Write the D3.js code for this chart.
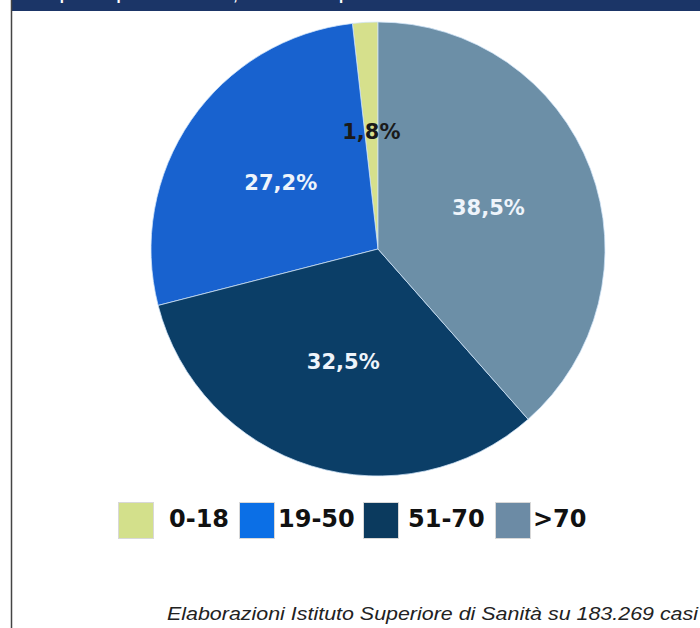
<!DOCTYPE html>
<html>
<head>
<meta charset="utf-8">
<script src="https://cdn.jsdelivr.net/npm/d3@7"></script>
<style>
  body { margin: 0; background: #fff; }
  svg { display: block; }
</style>
</head>
<body>
<script>
// data
const classi = ['0-18', '19-50', '51-70', '>70']
const valori = [1.8, 27.2, 32.5, 38.5]
const etichette = ['1,8%', '27,2%', '32,5%', '38,5%']
const colori = ['#d6e08c', '#1862cf', '#0b3e67', '#6c8fa7']
const coloriLegenda = ['#d3e08b', '#0b6fe6', '#0b3a5e', '#6c8ba5']
const titolo = 'Casi positivi per classe di età, distribuzione percentuale'
const nota = 'Elaborazioni Istituto Superiore di Sanità su 183.269 casi'

const W = 700, H = 628
const cx = 378, cy = 249, r = 227

let svg = d3.select('body')
  .append('svg')
  .attr('width', W)
  .attr('height', H)

// header bar (title is clipped at the top in the original)
svg.append('rect')
  .attr('x', 11).attr('y', 0)
  .attr('width', W - 11).attr('height', 11)
  .attr('fill', '#1b3567')

svg.append('text')
  .attr('x', 24).attr('y', 0)
  .attr('fill', '#fff')
  .style('font', 'bold 15px "Liberation Sans", Arial, sans-serif')
  .text(titolo)

// left border
svg.append('line')
  .attr('x1', 11.5).attr('x2', 11.5)
  .attr('y1', 0).attr('y2', H)
  .attr('stroke', '#444')
  .attr('stroke-width', 1.5)

// pie, clockwise from top, largest class first
let dati = classi.map((c, i) => ({ classe: c, valore: valori[i], etichetta: etichette[i], colore: colori[i] }))
let ordine = [3, 2, 1, 0]

let pie = d3.pie()
  .value(d => d.valore)
  .sort((a, b) => ordine.indexOf(classi.indexOf(a.classe)) - ordine.indexOf(classi.indexOf(b.classe)))

let arc = d3.arc().innerRadius(0).outerRadius(r)
let arcLabel = d3.arc().innerRadius(r * 0.52).outerRadius(r * 0.52)

let g = svg.append('g').attr('transform', `translate(${cx},${cy})`)

let fette = pie(dati)

g.selectAll('path')
  .data(fette)
  .join('path')
  .attr('d', arc)
  .attr('fill', d => d.data.colore)
  .attr('stroke', 'rgba(210,230,250,0.75)')
  .attr('stroke-width', 1)

g.selectAll('text.lbl')
  .data(fette)
  .join('text')
  .attr('class', 'lbl')
  .attr('transform', d => `translate(${arcLabel.centroid(d)})`)
  .attr('text-anchor', 'middle')
  .attr('dy', '0.36em')
  .attr('fill', d => d.data.classe == '0-18' ? '#1a1a1a' : '#eef4fb')
  .style('font', 'bold 21px "DejaVu Sans", sans-serif')
  .text(d => d.data.etichetta)

// legend
let legX = [118, 239, 363, 495]
let txtOff = [51, 39, 45, 38]
let leg = svg.append('g')
  .selectAll('g')
  .data(classi)
  .join('g')
  .attr('transform', (d, i) => `translate(${legX[i]},502)`)

leg.append('rect')
  .attr('x', 0.5).attr('y', 0.5)
  .attr('width', 35).attr('height', 36)
  .attr('fill', (d, i) => coloriLegenda[i])
  .attr('stroke', '#d8d8d8')

leg.append('text')
  .attr('x', (d, i) => txtOff[i])
  .attr('y', 25)
  .attr('fill', '#111')
  .style('font', 'bold 24px "DejaVu Sans", sans-serif')
  .text(d => d)

// footnote
svg.append('text')
  .attr('x', 167)
  .attr('y', 620)
  .attr('fill', '#222')
  .attr('textLength', 531)
  .attr('lengthAdjust', 'spacingAndGlyphs')
  .style('font', 'italic 19px "Liberation Sans", Arial, sans-serif')
  .text(nota)
</script>
</body>
</html>
